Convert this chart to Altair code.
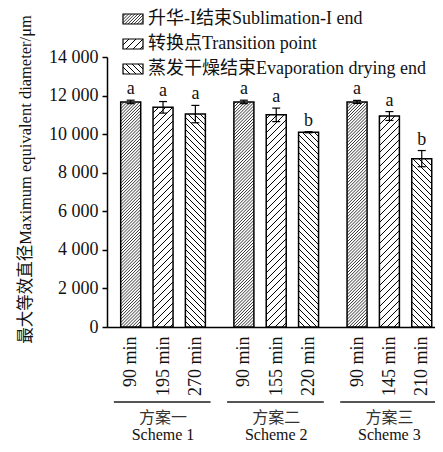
import math
import altair as alt
import pandas as pd

# ---------------- data ----------------
schemes_cn = ["方案一", "方案二", "方案三"]
schemes_en = ["Scheme 1", "Scheme 2", "Scheme 3"]
stages = ["升华-I结束Sublimation-I end", "转换点Transition point", "蒸发干燥结束Evaporation drying end"]
times = [["90 min", "195 min", "270 min"],
         ["90 min", "155 min", "220 min"],
         ["90 min", "145 min", "210 min"]]
means = [[11670, 11390, 11040],
         [11670, 11000, 10100],
         [11670, 10940, 8730]]
errs = [[90, 300, 450],
        [90, 350, 30],
        [80, 230, 420]]
letters = [["a", "a", "a"],
           ["a", "a", "b"],
           ["a", "a", "b"]]
y_ticks = [0, 2000, 4000, 6000, 8000, 10000, 12000, 14000]

# ---------------- layout / style ----------------
FONT = "Liberation Serif, Noto Sans CJK SC"
FS = 18
X0, X1 = -0.733, 9.41
W, H = 328, 270
YMAX = 14000
kx = W / (X1 - X0)
ky = H / YMAX
HALF = 10 / kx
CAP = 4 / kx
# pattern per stage: direction, spacing px, line width
patterns = [("/", 3.1, 0.8), ("/", 7.0, 1.0), ("\\", 6.0, 1.0)]


def hatch(x0, x1, y0, y1, direction, step):
    """segments in pixel space clipped to rect"""
    segs = []
    if direction == "/":
        cmin, cmax = y0 - x1, y1 - x0
        c = math.ceil(cmin / step) * step
        while c < cmax:
            xa, xb = max(x0, y0 - c), min(x1, y1 - c)
            if xb > xa:
                segs.append((xa, xa + c, xb, xb + c))
            c += step
    else:
        cmin, cmax = x0 + y0, x1 + y1
        c = math.ceil(cmin / step) * step
        while c < cmax:
            xa, xb = max(x0, c - y1), min(x1, c - y0)
            if xb > xa:
                segs.append((xa, c - xa, xb, c - xb))
            c += step
    return segs


def to_data(X, Y):
    return X / kx + X0, Y / ky


rows, hrows = [], []
positions, pos_labels = [], []
for g in range(3):
    for k in range(3):
        p = g * 3.5 + k
        positions.append(p)
        pos_labels.append(times[g][k])
        m, e = means[g][k], errs[g][k]
        rows.append(dict(x=p, xl=p - HALF, xr=p + HALF, y=m, lo=m - e, hi=m + e,
                         cl=p - CAP, cr=p + CAP, letter=letters[g][k]))
        d, step, sw = patterns[k]
        px0, px1 = (p - HALF - X0) * kx, (p + HALF - X0) * kx
        for (xa, ya, xb, yb) in hatch(px0, px1, 0, m * ky, d, step):
            a = to_data(xa, ya)
            b = to_data(xb, yb)
            hrows.append(dict(hx=a[0], hy=a[1], hx2=b[0], hy2=b[1], sw=sw))

# legend (pixel positions inside plot, y measured up from the x axis)
LEG_X, LEG_W, LEG_H = 16, 20, 10
leg_rows_y = [308, 283, 258]
lrows = []
for k in range(3):
    cy = leg_rows_y[k]
    xl, yb = to_data(LEG_X, cy - LEG_H / 2)
    xr, yt = to_data(LEG_X + LEG_W, cy + LEG_H / 2)
    tx, ty = to_data(LEG_X + LEG_W + 5, cy)
    lrows.append(dict(xl=xl, xr=xr, lo=yb, hi=yt, tx=tx, ty=ty, text=stages[k]))
    d, step, sw = patterns[k]
    for (xa, ya, xb, yb2) in hatch(LEG_X, LEG_X + LEG_W, cy - LEG_H / 2, cy + LEG_H / 2, d, step):
        a = to_data(xa, ya)
        b = to_data(xb, yb2)
        hrows.append(dict(hx=a[0], hy=a[1], hx2=b[0], hy2=b[1], sw=sw))

bars = pd.DataFrame(rows)
hat = pd.DataFrame(hrows)
leg = pd.DataFrame(lrows)
groups = pd.DataFrame(dict(
    gx=[g * 3.5 + 1 for g in range(3)],
    gl=[g * 3.5 - 0.52 for g in range(3)],
    gr=[g * 3.5 + 2.47 for g in range(3)],
    cn=schemes_cn, en=schemes_en))

label_expr = "[" + ",".join("'%s'" % s for s in pos_labels) + "][indexof([" + \
    ",".join(str(p) for p in positions) + "], datum.value)]"

xscale = alt.Scale(domain=[X0, X1], nice=False, zero=False)
yscale = alt.Scale(domain=[0, YMAX], nice=False)

x_axis = alt.Axis(values=positions, labelExpr=label_expr, labelAngle=-90,
                  labelAlign="right", labelBaseline="middle", labelPadding=9,
                  ticks=False, grid=False, domainColor="black", domainWidth=1.5,
                  labelFont=FONT, labelFontSize=FS, labelColor="#111",
                  labelOverlap=False, labelFlush=False, title=None)
y_axis = alt.Axis(values=y_ticks, labelExpr="replace(format(datum.value, ','), ',', ' ')",
                  grid=False, domainColor="black", domainWidth=1.5, tickColor="black",
                  tickWidth=1.5, tickSize=5, labelPadding=4, labelFont=FONT,
                  labelFontSize=FS, labelColor="#111", labelOverlap=False,
                  title="最大等效直径Maximum equivalent diameter/μm",
                  titleFont=FONT, titleFontSize=16.5, titleFontWeight="normal",
                  titleColor="#111", titleX=-82, titleY=122, titleAngle=-90,
                  titleAlign="center", titleBaseline="middle")


def X(field):
    return alt.X(field, scale=xscale, axis=x_axis)


def Y(field):
    return alt.Y(field, scale=yscale, axis=y_axis)


base = alt.Chart(bars)

fill = base.mark_rect(fill="white", stroke=None).encode(
    x=X("xl:Q"), x2="xr:Q", y=Y("y:Q"), y2=alt.datum(0))

leg_fill = alt.Chart(leg).mark_rect(fill="white").encode(
    x=X("xl:Q"), x2="xr:Q", y=Y("lo:Q"), y2="hi:Q")

hatch_layer = alt.Chart(hat).mark_rule(color="black").encode(
    x=X("hx:Q"), x2="hx2:Q", y=Y("hy:Q"), y2="hy2:Q",
    strokeWidth=alt.StrokeWidth("sw:Q", scale=None))

outline = base.mark_rect(fillOpacity=0, stroke="black", strokeWidth=1.5).encode(
    x=X("xl:Q"), x2="xr:Q", y=Y("y:Q"), y2=alt.datum(0))

err_v = base.mark_rule(color="black", strokeWidth=1.2).encode(
    x=X("x:Q"), y=Y("lo:Q"), y2="hi:Q")
err_top = base.mark_rule(color="black", strokeWidth=1.2).encode(
    x=X("cl:Q"), x2="cr:Q", y=Y("hi:Q"))
err_bot = base.mark_rule(color="black", strokeWidth=1.2).encode(
    x=X("cl:Q"), x2="cr:Q", y=Y("lo:Q"))

letter_layer = base.mark_text(font=FONT, fontSize=FS, color="#111", dy=-6,
                              baseline="alphabetic", align="center").encode(
    x=X("x:Q"), y=Y("hi:Q"), text="letter:N")

leg_box = alt.Chart(leg).mark_rect(fillOpacity=0, stroke="black", strokeWidth=1.2).encode(
    x=X("xl:Q"), x2="xr:Q", y=Y("lo:Q"), y2="hi:Q")
leg_text = alt.Chart(leg).mark_text(font=FONT, fontSize=FS, color="#111", align="left",
                                     baseline="middle").encode(
    x=X("tx:Q"), y=Y("ty:Q"), text="text:N")

g_line = alt.Chart(groups).mark_rule(color="#555", strokeWidth=2).encode(
    x=X("gl:Q"), x2="gr:Q", y=alt.value(345))
g_cn = alt.Chart(groups).mark_text(font=FONT, fontSize=16, color="#333",
                                   baseline="middle").encode(
    x=X("gx:Q"), y=alt.value(361), text="cn:N")
g_en = alt.Chart(groups).mark_text(font=FONT, fontSize=16, color="#111",
                                   baseline="middle").encode(
    x=X("gx:Q"), y=alt.value(378), text="en:N")

chart = alt.layer(fill, leg_fill, hatch_layer, outline, err_v, err_top, err_bot,
                  letter_layer, leg_box, leg_text, g_line, g_cn, g_en).properties(
    width=W, height=H,
    autosize=alt.AutoSizeParams(type="none"),
    padding={"left": 99, "top": 49, "right": 0, "bottom": 117},
    background="white",
).configure_view(stroke=None)

chart.save("out.html", embed_options={"renderer": "svg", "actions": False})
